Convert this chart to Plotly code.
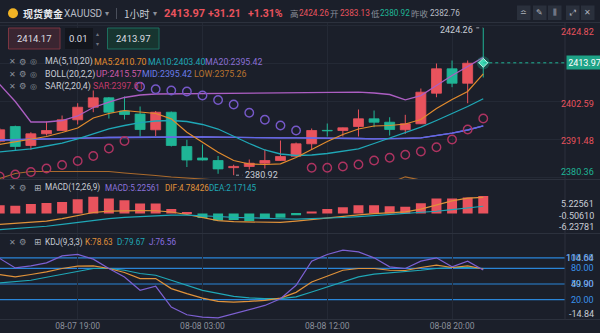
import plotly.graph_objects as go

W, H = 600, 333
FONT = "Roboto, Noto Sans CJK SC, sans-serif"
CJK = "Noto Sans CJK SC, sans-serif"
ICON = "DejaVu Sans, sans-serif"

BG = "#1b1f2a"
GRID = "#242935"
EDGE = "#2c313d"
RED = "#e9535d"
GREEN = "#1fb596"
C_MA5 = "#e28b2d"
C_MA10 = "#1fa7b6"
C_MA20 = "#8a6fd6"
C_MID = "#6068e8"
C_UP = "#ac5ec2"
C_LOW = "#aa6a2c"
C_SAR_LO = "#ad3360"
C_SAR_HI = "#7658c8"
C_DIF = "#e0923a"
C_DEA = "#1fa7b6"
C_J = "#7d60d2"
C_LEVEL = "#2a85d8"
TXT = "#c9cdd6"
MUTED = "#8b909b"

# hourly bars, 08-07 14:00 .. 08-08 22:00 (no 05:00 bar: daily break)
bar_no = list(range(32))
time_ticks = [5, 13, 21, 29]
time_labels = ["08-07 19:00", "08-08 03:00", "08-08 12:00", "08-08 20:00"]

opens = [2390.91, 2395.24, 2389.65, 2393.09, 2394.06, 2397.21, 2400.91, 2403.68,
         2399.80, 2398.91, 2394.27, 2399.44, 2389.35, 2385.97, 2385.24, 2383.13,
         2383.47, 2384.44, 2385.24, 2386.50, 2390.15, 2394.10, 2394.06, 2395.24,
         2397.50, 2396.50, 2394.27, 2396.03, 2405.03, 2412.21, 2407.97, 2414.20]
highs = [2394.80, 2395.50, 2393.56, 2396.71, 2398.47, 2402.09, 2405.83, 2403.90,
         2404.06, 2401.12, 2399.80, 2399.65, 2391.33, 2389.94, 2386.56, 2384.00,
         2385.53, 2388.47, 2391.12, 2390.53, 2394.65, 2396.12, 2394.90, 2400.24,
         2399.94, 2397.97, 2398.68, 2406.41, 2413.77, 2414.65, 2414.65, 2424.26]
lows = [2390.30, 2388.18, 2388.38, 2392.59, 2393.90, 2395.83, 2399.44, 2397.59,
        2397.30, 2392.30, 2392.44, 2389.35, 2383.33, 2385.24, 2381.33, 2380.92,
        2382.59, 2382.88, 2385.10, 2386.27, 2388.47, 2392.30, 2392.30, 2392.30,
        2395.03, 2392.59, 2393.09, 2395.97, 2403.85, 2406.80, 2402.09, 2409.65]
closes = [2394.27, 2389.35, 2393.09, 2394.06, 2397.21, 2400.91, 2403.68, 2399.44,
          2398.77, 2394.35, 2399.44, 2389.65, 2385.38, 2385.38, 2382.76, 2383.50,
          2384.44, 2385.24, 2386.41, 2390.15, 2394.06, 2393.95, 2394.85, 2397.50,
          2396.50, 2394.35, 2396.03, 2405.33, 2412.21, 2407.97, 2413.85, 2413.97]

ma5 = [2389.94, 2390.68, 2391.41, 2392.30, 2393.47, 2394.80, 2397.74, 2399.06,
       2399.94, 2399.50, 2399.06, 2397.50, 2393.56, 2390.62, 2387.68, 2385.24,
       2384.21, 2384.06, 2384.27, 2386.12, 2388.47, 2390.83, 2392.88, 2394.50,
       2395.38, 2395.53, 2395.97, 2397.30, 2400.53, 2403.18, 2405.53, 2410.70]
ma10 = [2387.74, 2388.18, 2388.68, 2389.50, 2390.33, 2391.62, 2393.09, 2394.56,
        2395.53, 2396.41, 2396.85, 2397.00, 2396.71, 2395.83, 2394.50, 2392.30,
        2390.24, 2388.33, 2387.15, 2386.71, 2386.85, 2387.30, 2387.88, 2388.68,
        2390.24, 2391.91, 2393.47, 2395.03, 2397.00, 2398.97, 2401.12, 2403.40]
ma20 = [2391.27, 2391.41, 2391.50, 2391.62, 2391.71, 2391.80, 2391.91, 2392.00,
        2392.06, 2392.09, 2392.15, 2392.15, 2392.15, 2392.15, 2392.09, 2392.00,
        2391.91, 2391.91, 2391.91, 2391.91, 2391.91, 2391.85, 2391.77, 2391.71,
        2391.62, 2391.62, 2391.77, 2391.91, 2392.59, 2393.27, 2394.21, 2395.42]
# Bollinger middle band is the same 20-bar average
boll_mid = ma20
boll_up = [2407.59, 2402.59, 2396.56, 2396.56, 2397.00, 2398.33, 2400.83, 2402.44,
           2403.77, 2404.50, 2404.80, 2404.85, 2404.94, 2404.94, 2405.09, 2405.09,
           2405.15, 2405.24, 2405.24, 2405.24, 2405.33, 2405.33, 2405.33, 2405.33,
           2405.09, 2404.65, 2403.09, 2404.35, 2407.30, 2410.24, 2412.88, 2415.57]
boll_low = [2379.94, 2381.41, 2382.00, 2382.00, 2382.00, 2382.00, 2382.00, 2382.00,
            2381.56, 2381.27, 2380.83, 2380.38, 2380.09, 2379.80, 2379.50, 2378.91,
            2378.68, 2378.59, 2378.59, 2378.59, 2378.50, 2378.38, 2378.21, 2378.09,
            2378.15, 2378.59, 2380.44, 2379.47, 2377.88, 2376.30, 2375.53, 2375.26]
sar = [2380.53, 2381.12, 2381.85, 2382.88, 2383.91, 2385.09, 2386.56, 2388.77,
       2390.97, 2406.91, 2406.18, 2405.83, 2405.53, 2404.35, 2403.03, 2401.71,
       2399.27, 2397.21, 2395.53, 2394.06, 2383.09, 2383.09, 2383.47, 2384.06,
       2385.24, 2386.03, 2386.91, 2387.88, 2389.15, 2391.41, 2394.35, 2397.61]

macd_hist = [2.50, 2.35, 2.85, 3.16, 3.46, 4.27, 4.96, 4.48, 3.97, 2.99, 2.99, 1.40,
             0.25, -1.30, -2.00, -1.90, -2.20, -1.60, -1.25, -0.45, 0.60, 1.40,
             1.90, 2.49, 2.49, 2.19, 2.00, 3.05, 4.48, 4.48, 4.78, 5.22561]
dif = [-3.20, -2.90, -2.60, -2.20, -1.50, -0.60, 0.33, 0.75, 0.90, 0.90, 0.84, 0.48,
       -0.27, -1.25, -2.06, -2.39, -2.51, -2.60, -2.60, -2.20, -1.70, -1.20, -0.75,
       -0.40, 0.00, 0.25, 0.50, 1.35, 2.65, 3.75, 4.57, 4.78426]
dea = [-4.75, -4.45, -4.10, -3.73, -3.20, -2.60, -2.00, -1.50, -1.10, -0.81, -0.60,
       -0.42, -0.42, -0.57, -0.85, -1.10, -1.31, -1.45, -1.52, -1.60, -1.50, -1.35,
       -1.15, -0.90, -0.60, -0.35, -0.10, 0.25, 0.70, 1.20, 1.70, 2.17145]
macd_scale_low = -6.23781

kdj_k = [68.1, 63.5, 68.1, 73.1, 79.6, 84.0, 84.6, 79.6, 71.9, 60.4, 60.4, 41.2,
         31.5, 23.1, 16.7, 15.4, 16.7, 18.7, 23.1, 34.0, 53.8, 65.4, 76.3, 79.6,
         79.6, 76.3, 75.8, 81.5, 86.0, 81.5, 84.6, 78.63]
kdj_d = [51.9, 54.6, 57.1, 62.9, 68.1, 74.4, 79.6, 79.6, 76.3, 70.0, 66.7, 57.1,
         47.5, 37.9, 32.1, 26.3, 23.5, 21.9, 21.9, 25.4, 34.6, 44.2, 55.2, 63.5,
         68.7, 71.2, 73.1, 76.3, 79.6, 81.5, 81.5, 79.67]
kdj_j = [98.8, 80.8, 84.6, 90.4, 103.8, 106.5, 97.5, 79.6, 63.5, 37.9, 45.6, 5.8,
         -8.8, -13.5, -14.84, -6.9, 1.3, 9.0, 21.9, 47.5, 93.7, 106.5, 114.64, 111.5,
         100.0, 82.7, 79.6, 93.7, 100.0, 82.7, 93.7, 76.56]
kdj_levels = [100, 80, 50, 20]

price_ticks = [2424.82, 2413.70, 2402.59, 2391.48, 2380.36]
last_price = 2413.97
bid_price = 2414.17
day_open = 2383.13
day_high = 2424.26
day_low = 2380.92
prev_close = 2382.76


def py(y):
    return 1 - y / H


def px(x):
    return x / W


PLOT_R = px(565)
X_RANGE = [0.02, 36.24]

fig = go.Figure()

# ---- candles ----
up = [i for i in bar_no if closes[i] >= opens[i]]
dn = [i for i in bar_no if closes[i] < opens[i]]
for ids, col in ((up, RED), (dn, GREEN)):
    wx, wy = [], []
    for i in ids:
        wx += [i, i, None]
        wy += [lows[i], highs[i], None]
    fig.add_trace(go.Scatter(x=wx, y=wy, mode="lines", line=dict(color=col, width=1),
                             xaxis="x", yaxis="y", hoverinfo="skip"))
    fig.add_trace(go.Bar(x=ids, base=[min(opens[i], closes[i]) for i in ids],
                         y=[abs(closes[i] - opens[i]) for i in ids], width=0.64,
                         marker=dict(color=col, line=dict(color=col, width=0.8)),
                         xaxis="x", yaxis="y"))

# ---- overlays ----
for vals, col, w in ((boll_low, C_LOW, 1.2), (boll_up, C_UP, 1.3), (ma20, C_MA20, 1.3),
                     (boll_mid, C_MID, 1.3), (ma10, C_MA10, 1.3), (ma5, C_MA5, 1.2)):
    fig.add_trace(go.Scatter(x=bar_no, y=vals, mode="lines", line=dict(color=col, width=w),
                             xaxis="x", yaxis="y", hoverinfo="skip"))

sar_hi = [i for i in bar_no if sar[i] > closes[i]]
sar_lo = [i for i in bar_no if sar[i] <= closes[i]]
for ids, col in ((sar_hi, C_SAR_HI), (sar_lo, C_SAR_LO)):
    fig.add_trace(go.Scatter(x=ids, y=[sar[i] for i in ids], mode="markers",
                             marker=dict(symbol="circle-open", size=8.5, color=col,
                                         line=dict(width=1.4, color=col)),
                             xaxis="x", yaxis="y", hoverinfo="skip"))

# glowing last-price point
last = bar_no[-1]
fig.add_trace(go.Scatter(x=[last], y=[last_price], mode="markers",
                         marker=dict(size=13, color="rgba(31,181,150,0.30)"),
                         xaxis="x", yaxis="y", hoverinfo="skip"))
fig.add_trace(go.Scatter(x=[last], y=[last_price], mode="markers",
                         marker=dict(symbol="diamond", size=7, color="#3fd6b2",
                                     line=dict(width=1, color="#b8f5e6")),
                         xaxis="x", yaxis="y", hoverinfo="skip"))

# ---- MACD ----
hist_col = [RED if v >= 0 else GREEN for v in macd_hist]
fig.add_trace(go.Bar(x=bar_no, y=macd_hist, width=0.64, marker=dict(color=hist_col, line=dict(width=0)),
                     xaxis="x2", yaxis="y2"))
fig.add_trace(go.Scatter(x=bar_no, y=dif, mode="lines", line=dict(color=C_DIF, width=1.2),
                         xaxis="x2", yaxis="y2", hoverinfo="skip"))
fig.add_trace(go.Scatter(x=bar_no, y=dea, mode="lines", line=dict(color=C_DEA, width=1.2),
                         xaxis="x2", yaxis="y2", hoverinfo="skip"))

# ---- KDJ ----
for vals, col in ((kdj_d, C_DEA), (kdj_k, C_DIF), (kdj_j, C_J)):
    fig.add_trace(go.Scatter(x=bar_no, y=vals, mode="lines", line=dict(color=col, width=1.2),
                             xaxis="x3", yaxis="y3", hoverinfo="skip"))

shapes = []
ann = []


def note(text, x, y, color, size=9, anchor="left", family=FONT, **kw):
    ann.append(dict(text=text, x=px(x), y=py(y), xref="paper", yref="paper",
                    xanchor=anchor, yanchor="middle", showarrow=False,
                    font=dict(color=color, size=size, family=family), **kw))


def hline(y, x0=0, x1=W, color=EDGE):
    shapes.append(dict(type="line", xref="paper", yref="paper", x0=px(x0), x1=px(x1),
                       y0=py(y), y1=py(y), line=dict(color=color, width=1)))


# panel frames
hline(22.5)
hline(179.5)
hline(233.5)
hline(319.5)
shapes.append(dict(type="line", xref="paper", yref="paper", x0=PLOT_R, x1=PLOT_R,
                   y0=py(319.5), y1=py(22.5), line=dict(color=EDGE, width=1)))

# KDJ reference levels
for lv in kdj_levels:
    shapes.append(dict(type="line", xref="paper", yref="y3", x0=0, x1=PLOT_R, y0=lv, y1=lv,
                       line=dict(color=C_LEVEL, width=1.2), layer="below"))

# last price dotted line
shapes.append(dict(type="line", xref="x", yref="y", x0=last, x1=X_RANGE[1], y0=last_price,
                   y1=last_price, line=dict(color=GREEN, width=1, dash="dot")))

# day high / low markers
hi_i = highs.index(day_high)
lo_i = lows.index(day_low)
shapes.append(dict(type="line", xref="x", yref="y", x0=hi_i - 0.45, x1=hi_i - 0.05,
                   y0=day_high, y1=day_high, line=dict(color="#9aa0aa", width=1, dash="dot")))
ann.append(dict(text=f"{day_high:.2f}", x=hi_i - 0.5, y=day_high, xref="x", yref="y",
                xanchor="right", yanchor="middle", yshift=-2, showarrow=False,
                font=dict(color="#c9cdd6", size=9, family=FONT)))
shapes.append(dict(type="line", xref="x", yref="y", x0=lo_i + 0.15, x1=lo_i + 0.55,
                   y0=day_low, y1=day_low, line=dict(color="#9aa0aa", width=1, dash="dot")))
ann.append(dict(text=f"{day_low:.2f}", x=lo_i + 0.6, y=day_low, xref="x", yref="y",
                xanchor="left", yanchor="middle", showarrow=False,
                font=dict(color="#c9cdd6", size=9, family=FONT)))

# ---- right-hand scale labels ----
for v, shift in zip(price_ticks, [-6, 0, -2, -2, 5]):
    if abs(v - last_price) < 1:
        continue
    ann.append(dict(text=f"{v:.2f}", x=px(596), y=v, xref="paper", yref="y",
                    xanchor="right", yanchor="middle", yshift=shift, showarrow=False,
                    font=dict(color=RED if v > prev_close else GREEN, size=9, family=FONT)))
ann.append(dict(text=f"{last_price:.2f}", x=px(566), y=last_price, xref="paper", yref="y",
                xanchor="left", yanchor="middle", showarrow=False, width=32, align="center",
                bgcolor="#1fa387", borderpad=1.5,
                font=dict(color="#ffffff", size=9, family=FONT)))

macd_hi = macd_hist[-1]
for v, ypix in ((macd_hi, 204.3), ((macd_hi + macd_scale_low) / 2, 215.7), (macd_scale_low, 227.3)):
    note(f"{v:.5f}", 596, ypix, TXT, anchor="right")

j_hi, j_lo = max(kdj_j), min(kdj_j)
ann.append(dict(text=f"{j_hi:.2f}", x=px(596), y=100, xref="paper", yref="y3",
                xanchor="right", yanchor="middle", showarrow=False,
                font=dict(color=TXT, size=9, family=FONT)))
ann.append(dict(text=f"{(j_hi + j_lo) / 2:.2f}", x=px(596), y=(j_hi + j_lo) / 2, xref="paper",
                yref="y3", xanchor="right", yanchor="middle", showarrow=False,
                font=dict(color=TXT, size=9, family=FONT)))
for lv in kdj_levels:
    ann.append(dict(text=f"{lv:.2f}", x=px(596), y=lv, xref="paper", yref="y3",
                    xanchor="right", yanchor="middle", showarrow=False,
                    font=dict(color="#3a92ea", size=9, family=FONT)))
ann.append(dict(text=f"{j_lo:.2f}", x=px(596), y=j_lo, xref="paper", yref="y3",
                xanchor="right", yanchor="middle", yshift=4, showarrow=False,
                font=dict(color=TXT, size=9, family=FONT)))

# ---- header ----
shapes.append(dict(type="circle", xref="paper", yref="paper", x0=px(8), x1=px(18),
                   y0=py(18.3), y1=py(8.3), fillcolor="#f2b425", line=dict(width=0)))
note("<b>现货黄金</b>", 21, 13.3, "#e8eaee", size=10, family=CJK)
note("XAUUSD", 62, 13.3, "#b9bdc6", size=10)
note("▾", 103, 13.3, MUTED, size=8, family=ICON)
shapes.append(dict(type="line", xref="paper", yref="paper", x0=px(116.5), x1=px(116.5),
                   y0=py(19), y1=py(8), line=dict(color="#4a4f5b", width=1)))
note("1小时", 122, 13.3, "#c8ccd4", size=10, family=CJK)
note("▾", 151, 13.3, MUTED, size=8, family=ICON)
note(f"<b>{last_price:.2f}</b>", 162, 13.3, RED, size=11)
note("<b>+31.21</b>", 206, 13.3, RED, size=10.5)
note("<b>+1.31%</b>", 246, 13.3, RED, size=10.5)
note("高", 288, 13.3, MUTED, size=8.5, family=CJK)
note(f"{day_high:.2f}", 297, 13.3, RED, size=8.2)
note("开", 328, 13.3, MUTED, size=8.5, family=CJK)
note(f"{day_open:.2f}", 338, 13.3, RED, size=8.2)
note("低", 369, 13.3, MUTED, size=8.5, family=CJK)
note(f"{day_low:.2f}", 378, 13.3, GREEN, size=8.2)
note("昨收", 409, 13.3, MUTED, size=8.5, family=CJK)
note(f"{prev_close:.2f}", 428, 13.3, "#b9bdc6", size=8.2)

for x0, glyph in ((517, "≏"), (533, "✎"), (548, "⫼"), (566, "⤢"), (581, "✕")):
    shapes.append(dict(type="rect", xref="paper", yref="paper", x0=px(x0), x1=px(x0 + 13.5),
                       y0=py(20), y1=py(5.5), fillcolor="#2a303c", line=dict(width=0)))
    note(glyph, x0 + 6.75, 12.8, "#aeb3bd", size=8, anchor="center", family=ICON)

# bid / step / ask boxes
shapes.append(dict(type="rect", xref="paper", yref="paper", x0=px(8.5), x1=px(60),
                   y0=py(49), y1=py(28), fillcolor="#3a2531", line=dict(color="#7b3541", width=1)))
note(f"{bid_price:.2f}", 34, 38.5, "#dcdde2", size=9.5, anchor="center")
shapes.append(dict(type="rect", xref="paper", yref="paper", x0=px(65), x1=px(93),
                   y0=py(49), y1=py(28), fillcolor="#13161d", line=dict(width=0)))
note("0.01", 78, 38.5, "#dcdde2", size=9.5, anchor="center")
note("▴", 97.5, 33.5, "#6f7480", size=6, anchor="center", family=ICON)
note("▾", 97.5, 43.5, "#6f7480", size=6, anchor="center", family=ICON)
shapes.append(dict(type="rect", xref="paper", yref="paper", x0=px(107.5), x1=px(159),
                   y0=py(49), y1=py(28), fillcolor="#173530", line=dict(color="#1d6e5e", width=1)))
note(f"{last_price:.2f}", 133, 38.5, "#dcdde2", size=9.5, anchor="center")


# indicator legends
def legend_row(y, title, items, box=False, size=8.8):
    note("✕", 12.7, y, "#8a8f9a", size=8, anchor="center", family=ICON)
    note("⚙", 23, y, "#8a8f9a", size=8.5, anchor="center", family=ICON)
    if box:
        note("⊞", 37.5, y, "#aeb3bd", size=8.5, anchor="center", family=ICON)
    else:
        note("◎", 33, y, "#8a8f9a", size=8, anchor="center", family=ICON)
    note(title, 43, y, TXT, size=size)
    for x, txt, col in items:
        note(txt, x, y, col, size=size)


legend_row(61.5, "MA(5,10,20)", [(92, f"MA5:{ma5[-1]:.2f}", C_MA5),
                                  (146, f"MA10:{ma10[-1]:.2f}", C_MA10),
                                  (203, f"MA20:{ma20[-1]:.2f}", C_MA20)])
legend_row(74, "BOLL(20,2,2)", [(94, f"UP:{boll_up[-1]:.2f}", "#cc5aa8"),
                                 (140, f"MID:{boll_mid[-1]:.2f}", "#6a7be8"),
                                 (192, f"LOW:{boll_low[-1]:.2f}", "#b8732f")])
legend_row(86.5, "SAR(2,20,4)", [(91, f"SAR:{sar[-1]:.2f}", "#c23a6a")])
legend_row(187.7, "MACD(12,26,9)", [(103, f"MACD:{macd_hist[-1]:.5f}", "#8a72dc"),
                                     (163, f"DIF:{dif[-1]:.5f}", C_DIF),
                                     (207, f"DEA:{dea[-1]:.5f}", C_DEA)], box=True, size=8.2)
legend_row(242.3, "KDJ(9,3,3)", [(83, f"K:{kdj_k[-1]:.2f}", C_DIF),
                                  (115, f"D:{kdj_d[-1]:.2f}", C_DEA),
                                  (147, f"J:{kdj_j[-1]:.2f}", "#8a6fe0")], box=True, size=8.2)

# ---- axes ----
xbase = dict(range=X_RANGE, domain=[0, PLOT_R], tickvals=time_ticks, ticktext=time_labels,
             showgrid=True, gridcolor=GRID, gridwidth=1, zeroline=False, showline=False,
             ticks="", fixedrange=True)
fig.update_layout(
    width=W, height=H, margin=dict(l=0, r=0, t=0, b=0),
    paper_bgcolor=BG, plot_bgcolor="rgba(0,0,0,0)",
    showlegend=False, barmode="overlay", hovermode=False,
    xaxis=dict(xbase, anchor="y", showticklabels=False),
    xaxis2=dict(xbase, anchor="y2", matches="x", showticklabels=False),
    xaxis3=dict(xbase, anchor="y3", matches="x", showticklabels=True,
                tickfont=dict(color=MUTED, size=8.5, family=FONT)),
    yaxis=dict(domain=[py(179.5), py(22.5)], range=[2379.65, 2425.83], tickvals=price_ticks,
               showticklabels=False, showgrid=True, gridcolor=GRID, zeroline=False,
               fixedrange=True),
    yaxis2=dict(domain=[py(233.5), py(180)], range=[-5.88, 9.94], showticklabels=False,
                showgrid=False, zeroline=False, fixedrange=True),
    yaxis3=dict(domain=[py(319.5), py(234)], range=[-17.9, 145.6], showticklabels=False,
                showgrid=False, zeroline=False, fixedrange=True),
    shapes=shapes, annotations=ann,
)

fig.write_html("out.html")
